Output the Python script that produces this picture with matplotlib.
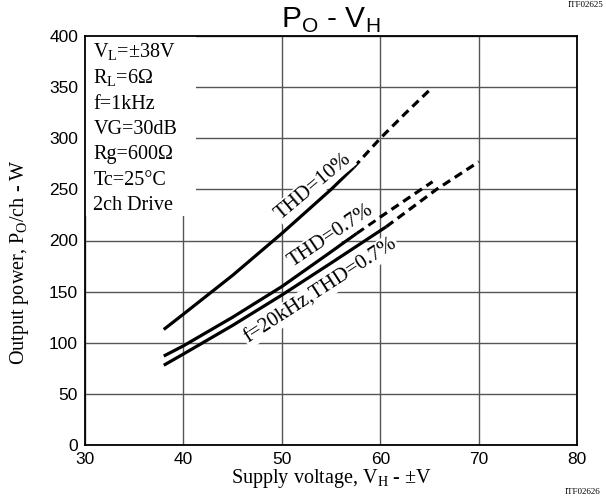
import numpy as np
import matplotlib
matplotlib.use("Agg")
import matplotlib.pyplot as plt
from matplotlib.patches import Rectangle

SERIF = "Liberation Serif"
SANS = "Liberation Sans"

# curves (V_H in V, P_O in W)
thd10_v = [38, 40, 45, 50, 55, 57.3]
thd10_p = [113, 128, 166, 207, 250, 271.6]
thd10_v_ext = [57.3, 60, 62.5, 65.2]
thd10_p_ext = [271.6, 300, 324, 349]

thd07_v = [38, 40, 45, 50, 55, 57.6]
thd07_p = [87, 97, 125, 155, 189, 207]
thd07_v_ext = [57.6, 60, 65.3]
thd07_p_ext = [207, 223, 257.5]

f20k_v = [38, 40, 45, 50, 55, 60.6]
f20k_p = [78, 89, 117, 146.7, 178, 213.5]
f20k_v_ext = [60.6, 65.7, 70]
f20k_p_ext = [213.5, 250, 277]

conditions = [r"V$_\mathregular{L}$=±38V", r"R$_\mathregular{L}$=6Ω", "f=1kHz",
              "VG=30dB", "Rg=600Ω", "Tc=25°C", "2ch Drive"]

xticks = [30, 40, 50, 60, 70, 80]
yticks = [0, 50, 100, 150, 200, 250, 300, 350, 400]

fig = plt.figure(figsize=(6.06, 5.0), dpi=100)
ax = fig.add_axes([85/606, 1-445/500, (577.3-85)/606, (445-36)/500])

ax.set_xlim(30, 80)
ax.set_ylim(0, 400)
ax.set_xticks(xticks)
ax.set_yticks(yticks)
ax.tick_params(length=0, pad=5, labelsize=12.5)
for lab in ax.get_xticklabels() + ax.get_yticklabels():
    lab.set_fontfamily(SANS)
ax.set_axisbelow(True)
ax.grid(True, color="#555555", linewidth=1.0)
for s in ax.spines.values():
    s.set_linewidth(1.3)
    s.set_color("black")
    s.set_zorder(5)

# white box behind the test conditions
ax.add_patch(Rectangle((30, 224), 11.3, 176, facecolor="white", edgecolor="none", zorder=1))

lw = 2.3
dash = (0, (2.7, 1.7))
ax.plot(thd10_v, thd10_p, color="black", lw=lw, zorder=3, solid_capstyle="butt")
ax.plot(thd10_v_ext, thd10_p_ext, color="black", lw=lw, ls=dash, zorder=3)
ax.plot(thd07_v, thd07_p, color="black", lw=lw, zorder=3, solid_capstyle="butt")
ax.plot(thd07_v_ext, thd07_p_ext, color="black", lw=lw, ls=dash, zorder=3)
ax.plot(f20k_v, f20k_p, color="black", lw=lw, zorder=3, solid_capstyle="butt")
ax.plot(f20k_v_ext, f20k_p_ext, color="black", lw=lw, ls=dash, zorder=3)

# curve labels
box = dict(facecolor="white", edgecolor="none", pad=1.0)
ax.text(53.2, 253, "THD=10%", rotation=40, ha="center", va="center",
        fontsize=15, family=SERIF, bbox=box, zorder=4)
ax.text(55.0, 205, "THD=0.7%", rotation=34, ha="center", va="center",
        fontsize=15, family=SERIF, bbox=box, zorder=4)
ax.text(53.9, 151.0, "f=20kHz,THD=0.7%", rotation=33, ha="center", va="center",
        fontsize=15, family=SERIF, bbox=box, zorder=4)

# test conditions
for i, c in enumerate(conditions):
    ax.text(30.85, 378.5 - i*24.8, c, ha="left", va="baseline",
            fontsize=14.5, family=SERIF, zorder=4)

fig.text(331/606, 1-20/500, r"P$_\mathregular{O}$ - V$_\mathregular{H}$",
         ha="center", va="center", fontsize=21.5, family=SANS)
fig.text(331/606, 1-478/500, r"Supply voltage, V$_\mathregular{H}$ - ±V",
         ha="center", va="center", fontsize=14.5, family=SERIF)
fig.text(20/606, 1-262/500, r"Output power, P$_\mathregular{O}$/ch - W",
         ha="center", va="center", rotation=90, fontsize=14.5, family=SERIF)
fig.text(600/606, 1-492/500, "ITF02626", ha="right", va="center",
         fontsize=6.5, family=SERIF)
fig.text(603/606, 1-1/500, "ITF02625", ha="right", va="top",
         fontsize=6.5, family=SERIF)

fig.savefig("out.png", dpi=100)
